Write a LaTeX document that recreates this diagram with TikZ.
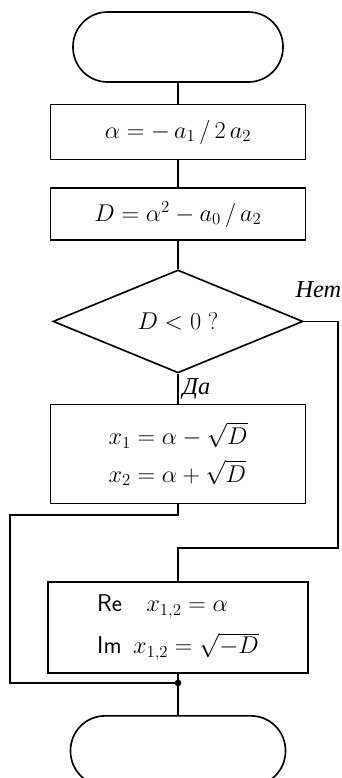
\documentclass[tikz,border=0pt]{standalone}
\usepackage{fontspec}
\newfontfamily\rusfont{Liberation Serif}
\usetikzlibrary{positioning,shapes.geometric}
\tikzset{
  term/.style={draw,line width=1.4pt,rounded corners=1.04cm,minimum width=6.3cm,minimum height=2.1cm},
  proc/.style={draw,line width=1.4pt,minimum width=7.65cm,font=\huge},
  cond/.style={draw,line width=1.4pt,diamond,minimum width=7.5cm,minimum height=3.09cm,inner sep=0pt,font=\huge},
  flow/.style={line width=1.4pt},
  lbl/.style={font=\huge\rusfont\itshape}
}
\begin{document}
\begin{tikzpicture}
\useasboundingbox (0,0) rectangle (10.26,-23.34);
\node[term] (start) at (5.34,-1.41) {};
\node[proc,minimum height=1.65cm,below=.63cm of start] (alpha) {$\alpha = -\,a_1\,/\,2\,a_2$};
\node[proc,minimum height=1.56cm,below=.81cm of alpha] (disc) {$D = \alpha^2 - a_0\,/\,a_2$};
\node[cond,below=.84cm of disc] (test) {$D<0\;?$};
\node[proc,minimum height=2.97cm,align=left,below=.9cm of test] (roots)
  {$x_1 = \alpha - \sqrt{D}$\\[.25cm] $x_2 = \alpha + \sqrt{D}$};
\node[proc,minimum width=7.8cm,minimum height=2.73cm,align=left,below=2.31cm of roots] (cplx)
  {\textsf{Re}\quad$x_{1,2} = \alpha$\\[.4cm] \textsf{Im}\ \,$x_{1,2} = \sqrt{-D}$};
\node[term,minimum width=6.45cm,below=1.23cm of cplx] (stop) {};
\node[lbl] (no) at (9.55,-8.7) {Нет};
% connectors
\coordinate (nr) at (10.14,-16.44); \coordinate (yl) at (0.3,-15.45);
\coordinate (join) at (5.34,-20.49);
\draw[flow] (start) -- (alpha); \draw[flow] (alpha) -- (disc); \draw[flow] (disc) -- (test);
\draw[flow] (test) -- (roots) node[midway,right,lbl] (yes) {Да};
\draw[flow] (test.east) -| (nr) -| (cplx.north);
\draw[flow] (roots.south) |- (yl) |- (join);
\draw[flow] (cplx) -- (join) -- (stop);
\fill (join) circle (.1);
\end{tikzpicture}
\end{document}
